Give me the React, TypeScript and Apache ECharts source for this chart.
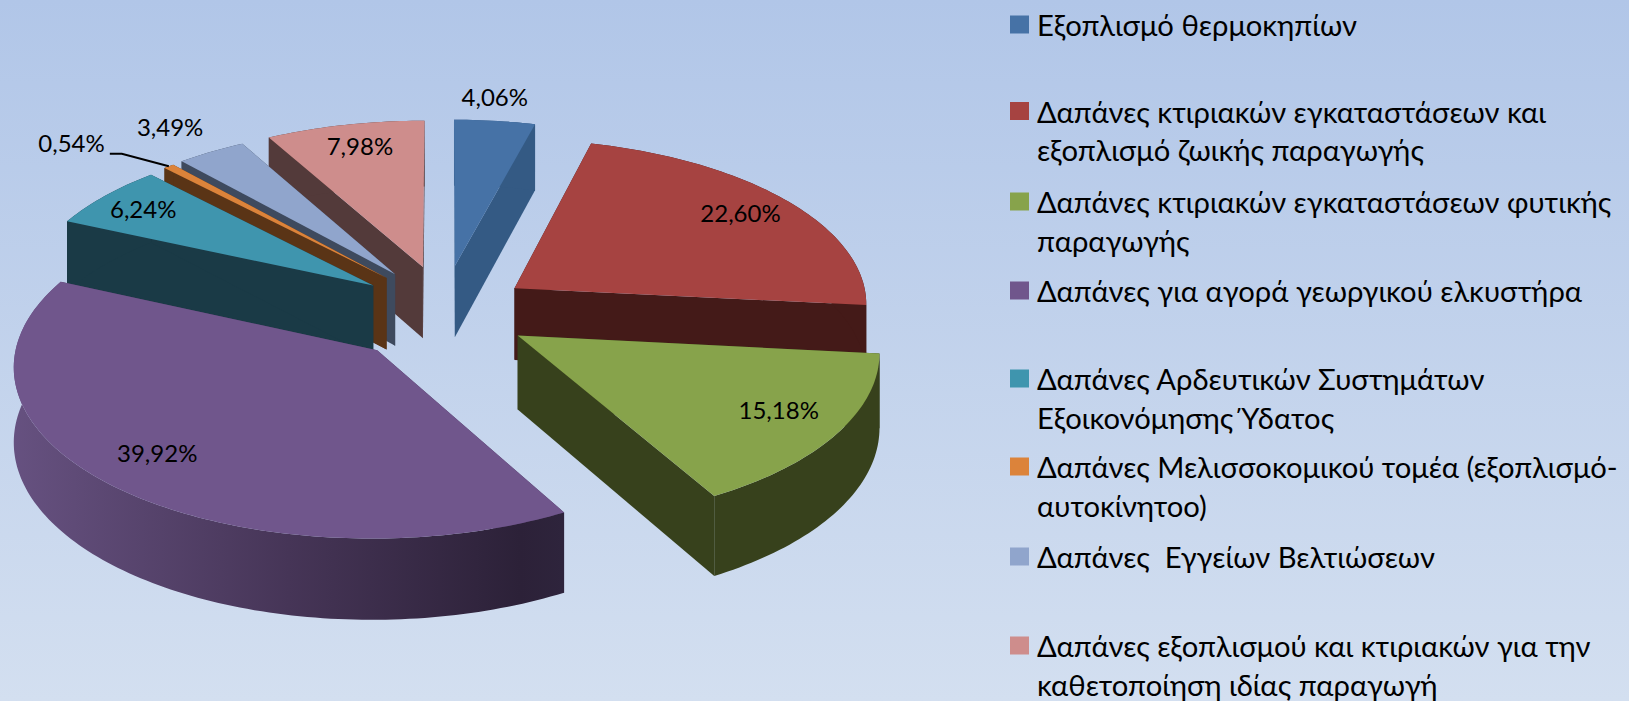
import React, { useEffect, useRef } from "react";
import * as echarts from "echarts";

const categories = [
  "Εξοπλισμό θερμοκηπίων",
  "Δαπάνες κτιριακών εγκαταστάσεων και\nεξοπλισμό ζωικής παραγωγής",
  "Δαπάνες κτιριακών εγκαταστάσεων φυτικής\nπαραγωγής",
  "Δαπάνες για αγορά γεωργικού ελκυστήρα",
  "Δαπάνες Αρδευτικών Συστημάτων\nΕξοικονόμησης Ύδατος",
  "Δαπάνες Μελισσοκομικού τομέα (εξοπλισμό-\nαυτοκίνητοο)",
  "Δαπάνες  Εγγείων Βελτιώσεων",
  "Δαπάνες εξοπλισμού και κτιριακών για την\nκαθετοποίηση ιδίας παραγωγή",
];
const values = [4.06, 22.6, 15.18, 39.92, 6.24, 0.54, 3.49, 7.98];
const topColors = ["#4672a6", "#a64341", "#87a34b", "#70568c", "#3f95ae", "#dc833a", "#90a5cc", "#ce8d8c"];
const wallColors = ["#345a84", "#441a18", "#37411c", "#4a3a60", "#1a3a46", "#5a3416", "#3e4a5e", "#533a3a"];
// painter's order: far slices first
const paintOrder = [0, 7, 6, 5, 1, 4, 2, 3];
// label centre relative to the slice tip
const labelNudge = [[40, -169], [226, -76], [261, 74], [-220, 102], [-230, -77], [-315, -135], [-225, -148], [-63, -122]];
// small correction of each exploded slice
const sliceDrop = [0, 2, -6, -1, 0, 0, 0, 0];
const sliceShift = [0, 0, 0, -7, -1, 0, 0, 0];
const legendFirstLine = [24.5, 111, 201.5, 290.5, 378.5, 466.5, 556.5, 645.5];

const FONT = "Lato, 'Noto Sans', sans-serif";
const CX = 444, CY = 314, R = 355, D = 12, K = 166, EX = 0.245, EZ = 1.22, H = 73;
const LINE_H = 38.5;

const total = values.reduce((a, b) => a + b, 0);
const startOf = (i: number) => (values.slice(0, i).reduce((a, b) => a + b, 0) / total) * Math.PI * 2;

function projector(i: number) {
  const a0 = startOf(i), a1 = startOf(i + 1), m = (a0 + a1) / 2;
  return {
    a0, a1, m,
    p(a: number, r: number, drop = 0) {
      const x = r * Math.sin(a) + EX * Math.sin(m);
      const z = r * Math.cos(a) + EX * EZ * Math.cos(m);
      const s = D / (D + z);
      return [CX + R * x * s + sliceShift[i], CY - K * z * s + drop * s + sliceDrop[i]];
    },
  };
}

function sliceItem(i: number) {
  return () => {
    const { a0, a1, m, p } = projector(i);
    const n = Math.max(4, Math.ceil((a1 - a0) / 0.02));
    const arc: number[][] = [], arcLow: number[][] = [];
    for (let j = 0; j <= n; j++) {
      const a = a0 + ((a1 - a0) * j) / n;
      arc.push(p(a, 1));
      arcLow.push(p(a, 1, H));
    }
    const tip = p(0, 0), tipLow = p(0, 0, H);
    const wall = wallColors[i];
    const sideFace = (a: number) => ({
      type: "polygon",
      shape: { points: [tip, p(a, 1), p(a, 1, H), tipLow] },
      style: { fill: wall },
    });
    const wallFill: any = i === 3
      ? new echarts.graphic.LinearGradient(0, 0, 1, 0, [
          { offset: 0, color: "#665180" },
          { offset: 0.5, color: "#463557" },
          { offset: 0.92, color: "#2c2138" },
          { offset: 1, color: "#2e243c" },
        ])
      : wall;
    const children: any[] = [
      sideFace(a0),
      sideFace(a1),
      {
        type: "polygon",
        shape: { points: [...arc, ...arcLow.slice().reverse()] },
        style: { fill: wallFill },
      },
      {
        type: "polygon",
        shape: { points: [tip, ...arc] },
        style: { fill: topColors[i] },
      },
      {
        type: "text",
        style: {
          text: values[i].toFixed(2).replace(".", ",") + "%",
          x: tip[0] + labelNudge[i][0],
          y: tip[1] + labelNudge[i][1],
          fill: "#000",
          fontFamily: FONT,
          fontSize: 24,
          align: "center",
          verticalAlign: "middle",
        },
      },
    ];
    if (i === 5) {
      const end = p(m, 1);
      children.push({
        type: "polyline",
        shape: { points: [[end[0] - 59, end[1] - 12.5], [end[0] - 47, end[1] - 12.5], [end[0], end[1]]] },
        style: { stroke: "#000", lineWidth: 2, fill: "none" },
      });
    }
    return { type: "group", children };
  };
}

export default function App() {
  const ref = useRef<HTMLDivElement>(null);
  useEffect(() => {
    document.body.style.margin = "0";
    const chart = echarts.init(ref.current!, null, { renderer: "svg" });
    chart.setOption({
      animation: false,
      backgroundColor: new echarts.graphic.LinearGradient(0, 0, 0, 1, [
        { offset: 0, color: "#b1c6e8" },
        { offset: 1, color: "#d3dff0" },
      ]),
      tooltip: { show: false },
      legend: categories.map((name, i) => {
        const lines = name.split("\n").length;
        const rowH = LINE_H * lines;
        const iconH = rowH - (LINE_H - 18);
        return {
          left: 1010,
          top: legendFirstLine[i] - LINE_H / 2,
          padding: 0,
          itemWidth: 19,
          itemHeight: iconH,
          selectedMode: false,
          data: [{
            name,
            icon: `path://M0 0H19V18H0Z M0 ${iconH}L0 ${iconH}`,
            itemStyle: { color: topColors[i], borderWidth: 0 },
          }],
          textStyle: {
            fontFamily: FONT,
            fontSize: 29.2,
            lineHeight: LINE_H,
            color: "#000",
            padding: [0, 0, 0, 3],
          },
        };
      }),
      series: paintOrder.map((i, order) => ({
        type: "custom",
        name: categories[i],
        coordinateSystem: "none",
        z: 2 + order,
        silent: true,
        itemStyle: { color: topColors[i] },
        data: [values[i]],
        renderItem: sliceItem(i),
      })),
    });
    return () => chart.dispose();
  }, []);
  return <div ref={ref} style={{ width: 1629, height: 701 }} />;
}
